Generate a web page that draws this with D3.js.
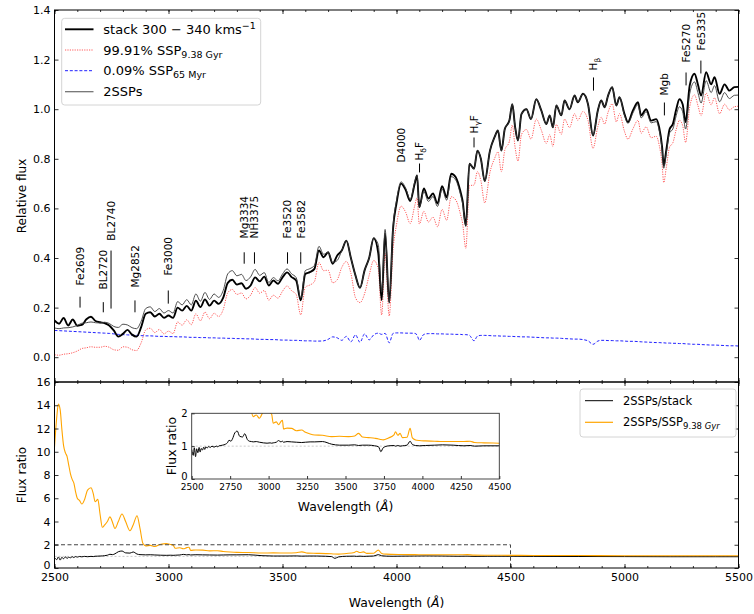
<!DOCTYPE html>
<html><head><meta charset="utf-8">
<script src="https://cdn.jsdelivr.net/npm/d3@7"></script>
<style>
body{margin:0;background:#fff;}
svg{font-family:"DejaVu Sans",sans-serif;}
</style></head><body>
<svg id="chart" width="754" height="614"></svg>
<script>
// ---- Spectra (relative flux) on a common wavelength grid (Angstrom) ----
const wave = [2500,2520,2540,2560,2580,2600,2620,2640,2660,2680,
 2700,2720,2740,2760,2780,2800,2820,2840,2860,2880,
 2900,2920,2940,2960,2980,3000,3020,3040,3060,3080,
 3100,3120,3140,3160,3180,3200,3220,3240,3260,3280,
 3300,3320,3340,3360,3380,3400,3420,3440,3460,3480,
 3500,3520,3540,3560,3580,3600,3620,3640,3660,3680,
 3700,3720,3740,3760,3780,3800,3820,3840,3860,3880,
 3900,3920,
 3935,3950,3968,3985,4000,4020,4040,4060,4080,4090,
 4100,4120,4140,4160,4180,4200,4220,4240,4260,4280,
 4290,4304,4320,4340,4355,4370,4387,4410,4430,4445,
 4460,4475,4495,4508,4520,4533,4548,4570,4590,4613,
 4635,4657,4672,4686,4701,4723,4737,4759,4781,4795,
 4818,4840,4862,4883,4898,4913,4928,4946,4964,4978,
 5000,5015,5037,5059,5073,5095,5117,5139,5152,5165,
 5172,5183,5198,5212,5227,5241,5255,5268,5286,5307,
 5322,5336,5358,5380,5395,5417,5439,5460,5482,5500];

// stacked spectrum, 300-340 km/s
const stack = [.148,.135,.158,.128,.152,.127,.130,.153,.163,.146,
 .141,.137,.128,.108,.083,.094,.110,.091,.083,.121,
 .175,.181,.164,.175,.159,.168,.159,.200,.188,.207,
 .188,.228,.202,.233,.208,.228,.215,.240,.300,.312,
 .293,.298,.276,.289,.322,.306,.325,.289,.309,.296,
 .322,.342,.323,.309,.229,.336,.343,.356,.430,.403,
 .423,.377,.410,.430,.470,.400,.330,.280,.350,.400,
 .480,.420,
 .230,.500,.220,.520,.620,.700,.675,.630,.700,.733,
 .605,.680,.640,.660,.620,.690,.645,.740,.726,.670,
 .630,.530,.780,.760,.833,.800,.710,.833,.887,.914,
 .833,.920,.954,1.020,.930,.874,.980,1.000,.960,1.040,
 .995,.940,.975,.927,1.015,.975,1.035,1.000,1.055,1.028,
 1.062,1.020,.894,.995,1.035,1.008,1.055,1.089,1.015,1.048,
 .980,.948,.995,1.028,.975,1.000,.954,.960,.927,.847,
 .773,.833,.920,.940,1.000,1.040,1.020,.948,1.096,1.143,
 1.100,1.055,1.149,1.100,1.129,1.062,1.100,1.075,1.089,1.090];

// 99.91% SSP, 9.38 Gyr
const sspOld = [.010,.008,.012,.014,.018,.025,.035,.038,.042,.040,
 .040,.044,.040,.030,.028,.042,.040,.030,.027,.058,
 .110,.117,.099,.112,.094,.105,.095,.142,.129,.151,
 .131,.175,.147,.182,.155,.177,.164,.192,.260,.273,
 .253,.259,.235,.250,.281,.258,.269,.230,.250,.238,
 .266,.287,.268,.253,.171,.283,.291,.305,.382,.349,
 .351,.300,.312,.362,.386,.338,.240,.220,.256,.330,
 .390,.357,
 .170,.419,.166,.434,.534,.609,.585,.539,.611,.643,
 .537,.588,.545,.565,.526,.596,.552,.647,.634,.578,
 .539,.439,.692,.694,.748,.712,.622,.746,.801,.828,
 .748,.835,.870,.936,.847,.791,.898,.918,.879,.960,
 .916,.862,.897,.850,.938,.899,.960,.926,.982,.955,
 .991,.954,.842,.930,.967,.940,.988,1.022,.949,.982,
 .910,.879,.921,.955,.903,.929,.885,.891,.856,.777,
 .704,.763,.848,.864,.919,.955,.935,.866,1.010,1.058,
 1.015,.974,1.065,1.018,1.046,.982,1.020,.997,1.010,1.012];

// 0.09% SSP, 65 Myr
const sspYoung = [.108,.107,.106,.105,.104,.103,.102,.101,.100,.099,
 .098,.097,.096,.094,.092,.091,.090,.089,.088,.087,
 .086,.086,.085,.084,.084,.083,.083,.082,.082,.081,
 .080,.080,.079,.079,.078,.078,.077,.077,.076,.076,
 .075,.075,.074,.074,.073,.072,.072,.071,.071,.070,
 .069,.069,.068,.068,.067,.066,.066,.065,.065,.066,
 .072,.082,.078,.068,.084,.062,.090,.060,.094,.070,
 .090,.097,
 .092,.096,.058,.096,.098,.098,.097,.097,.096,.090,
 .068,.092,.095,.095,.094,.094,.093,.093,.092,.092,
 .091,.091,.088,.066,.085,.088,.088,.087,.086,.086,
 .085,.085,.084,.084,.083,.083,.082,.082,.081,.080,
 .079,.078,.078,.077,.077,.076,.075,.074,.073,.073,
 .071,.066,.052,.065,.068,.068,.067,.067,.066,.066,
 .065,.064,.064,.063,.062,.061,.060,.059,.059,.058,
 .058,.057,.057,.056,.056,.055,.055,.054,.053,.052,
 .052,.051,.050,.049,.049,.048,.047,.046,.046,.045];

// two-population model (2SSPs)
const twoSSP = [.118,.115,.118,.119,.122,.128,.137,.139,.142,.139,
 .138,.141,.136,.124,.120,.133,.130,.119,.115,.145,
 .196,.203,.184,.196,.178,.188,.178,.224,.211,.232,
 .211,.255,.226,.261,.233,.255,.241,.269,.336,.349,
 .328,.334,.309,.324,.354,.330,.341,.301,.321,.308,
 .335,.356,.336,.321,.238,.349,.357,.370,.447,.415,
 .423,.382,.390,.430,.470,.400,.330,.280,.350,.400,
 .480,.454,
 .262,.515,.224,.530,.632,.707,.682,.636,.707,.733,
 .605,.668,.628,.648,.608,.678,.633,.728,.714,.658,
 .618,.530,.780,.760,.833,.800,.710,.833,.887,.914,
 .833,.920,.954,1.020,.930,.874,.980,1.000,.960,1.040,
 .995,.940,.975,.927,1.015,.975,1.035,1.000,1.055,1.028,
 1.062,1.020,.894,.995,1.035,1.008,1.055,1.089,1.015,1.048,
 .975,.943,.985,1.018,.965,.990,.945,.950,.915,.835,
 .762,.820,.905,.920,.975,1.010,.990,.920,1.063,1.110,
 1.067,1.025,1.115,1.067,1.095,1.030,1.067,1.043,1.056,1.057];

// ---- Flux ratios ----
const ratioWave = [2500,2510,2517,2525,2532,2540,2548,2555,2562,2570,
 2578,2585,2592,2600,2610,2620,2632,2645,2660,2670,
 2678,2690,2700,2710,2720,2732,2743,2755,2765,2780,
 2796,2812,2831,2845,2862,2875,2888,2900,2920,2940,
 2966,2990,3010,3020,3030,3050,3065,3080,3090,3097,
 3120,3150,3180,3215,3240,3270,3300,3350,3410,3460,
 3520,3560,3585,3610,3650,3690,3715,3730,3745,3780,
 3815,3825,3840,3855,3870,3900,3920,3935,3955,3980,
 4020,4080,4130,4200,4270,4310,4340,4400,4500,4600,
 4800,5000,5200,5400,5500];
const ratioToStack = [0.90,0.72,0.95,0.68,0.92,0.80,0.96,0.82,0.93,0.88,
 0.97,0.90,0.98,0.94,0.99,0.96,1.00,0.97,1.00,0.98,
 1.01,1.02,1.03,1.04,1.06,1.10,1.18,1.15,1.22,1.40,
 1.46,1.30,1.28,1.38,1.20,1.15,1.14,1.13,1.14,1.12,
 1.10,1.09,1.10,1.09,1.10,1.12,1.17,1.13,1.15,1.12,
 1.14,1.13,1.12,1.11,1.12,1.13,1.13,1.14,1.06,1.03,
 1.03,1.04,1.02,1.03,1.03,1.01,0.98,0.83,0.95,1.01,
 1.02,1.00,1.02,1.00,1.01,1.03,1.15,1.05,1.02,1.01,
 1.02,1.03,1.04,1.03,1.01,1.02,1.00,1.01,1.01,1.00,
 0.99,0.98,0.97,0.97,0.97];
const ratioToOld = [10.4,13.0,14.1,13.6,12.0,10.5,9.9,9.6,8.9,8.1,
 7.6,7.3,6.6,6.0,5.8,5.5,5.9,6.7,6.9,6.4,
 5.7,5.9,4.6,3.5,3.7,4.0,4.4,3.9,3.4,4.0,
 4.65,4.0,3.2,3.7,4.5,3.4,2.1,1.9,1.95,1.85,
 2.05,2.1,2.02,1.97,1.70,1.74,1.65,1.75,1.79,1.52,
 1.55,1.54,1.47,1.49,1.42,1.37,1.34,1.33,1.29,1.30,
 1.29,1.31,1.39,1.28,1.26,1.24,1.22,1.20,1.19,1.25,
 1.34,1.44,1.33,1.39,1.26,1.27,1.54,1.25,1.19,1.17,
 1.16,1.15,1.14,1.14,1.14,1.15,1.11,1.10,1.09,1.08,
 1.07,1.06,1.06,1.05,1.05];

// ---- Spectral feature marks: name ("_" marks a subscript character), wavelength,
//      tick range and text start in flux units ----
const featureNames = ["Fe2609","BL2720","BL2740","Mg2852","Fe3000","Mg3334","NH3375","Fe3520","Fe3582",
                      "D4000","H_δF","H_γF","H_β","Mgb","Fe5270","Fe5335"];
const featureWaves = [2612,2714,2748,2853,2999,3332,3377,3522,3580,4022,4101,4340,4864,5175,5270,5335];
const featureTickLo = [0.200,0.181,0.196,0.181,0.216,0.377,0.377,0.377,0.377,null,0.745,0.846,1.075,0.975,1.096,1.144];
const featureTickHi = [0.244,0.222,0.430,0.229,0.269,0.423,0.423,0.423,0.423,null,0.781,0.886,1.128,1.027,1.148,1.196];
const featureTextAt = [0.289,0.273,0.470,0.281,0.329,0.479,0.479,0.479,0.479,0.785,0.793,0.902,1.156,1.055,1.188,1.237];

const fluxTicks = [0,0.2,0.4,0.6,0.8,1.0,1.2,1.4];
const ratioTicks = [0,2,4,6,8,10,12,14,16];
const waveTicks = [2500,3000,3500,4000,4500,5000,5500];
const insetWaveTicks = [2500,2750,3000,3250,3500,3750,4000,4250,4500];
const insetRatioTicks = [0,1,2];

// ---- Layout ----
const L = 54.5, R = 738.5, T1 = 10, B1 = 382, B2 = 568;
const svg = d3.select("#chart");
const x  = d3.scaleLinear().domain([2500,5500]).range([L,R]);
const yF = d3.scaleLinear().domain([-0.1,1.4]).range([B1,T1]);
const yR = d3.scaleLinear().domain([0,16]).range([B2,B1]);
const IL = 191.7, IR = 499.3, IT = 413.3, IB = 479;
const xi = d3.scaleLinear().domain([2500,4500]).range([IL,IR]);
const yi = d3.scaleLinear().domain([0,2]).range([IB,IT]);

const defs = svg.append("defs");
function clip(id,x0,y0,w,h){ defs.append("clipPath").attr("id",id).append("rect").attr("x",x0).attr("y",y0).attr("width",w).attr("height",h); }
clip("cTop",L,T1,R-L,B1-T1);
clip("cBot",L,B1,R-L,B2-B1);
clip("cIn",IL,IT,IR-IL,IB-IT);

const pairs = (xs,ys) => xs.map((w,i)=>[w,ys[i]]);
const lineTop = d3.line().x(d=>x(d[0])).y(d=>yF(d[1])).curve(d3.curveMonotoneX);
const lineBot = d3.line().x(d=>x(d[0])).y(d=>yR(d[1])).curve(d3.curveMonotoneX);
const lineIn  = d3.line().x(d=>xi(d[0])).y(d=>yi(d[1])).curve(d3.curveMonotoneX);

// ---- Axis helpers (inward ticks, frame drawn separately) ----
function styleAxis(g, fs){
  g.select(".domain").remove();
  g.selectAll(".tick line").attr("stroke","#000").attr("stroke-width",0.8);
  g.selectAll(".tick text").attr("fill","#000").attr("font-size",fs).attr("font-family","DejaVu Sans");
}
// the zero label sits a little above its tick so it clears the wavelength labels
function liftZero(g, px){
  g.selectAll(".tick").filter(d=>d===0).select("text").attr("dy",(0.32*0) + "em").attr("y",-px)
    .attr("dominant-baseline","central");
}
function xTicks(scale, yPos, orient, labels, fs){
  const minor = d3.range(scale.domain()[0], scale.domain()[1]+1, 100);
  const ax = orient==="top" ? d3.axisTop : d3.axisBottom;
  svg.append("g").attr("transform",`translate(0,${yPos})`)
    .call(ax(scale).tickValues(minor).tickSize(-2).tickFormat("")).call(g=>styleAxis(g,fs));
  svg.append("g").attr("transform",`translate(0,${yPos})`)
    .call(ax(scale).tickValues(waveTicks).tickSize(-4).tickPadding(5).tickFormat(labels ? d3.format("d") : ""))
    .call(g=>styleAxis(g,fs));
}
function yTicks(scale, vals, fmt, fs){
  const g = svg.append("g").attr("transform",`translate(${L},0)`)
    .call(d3.axisLeft(scale).tickValues(vals).tickSize(-4).tickPadding(4).tickFormat(fmt)).call(g=>styleAxis(g,fs));
  svg.append("g").attr("transform",`translate(${R},0)`)
    .call(d3.axisRight(scale).tickValues(vals).tickSize(-4).tickFormat("")).call(g=>styleAxis(g,fs));
  return g;
}

// ---- Top panel: spectra ----
const gTop = svg.append("g").attr("clip-path","url(#cTop)");
gTop.append("path").attr("d",lineTop(pairs(wave,sspOld))).attr("fill","none")
  .attr("stroke","#ff5a5a").attr("stroke-width",1).attr("stroke-dasharray","1.2,1.2");
gTop.append("path").attr("d",lineTop(pairs(wave,sspYoung))).attr("fill","none")
  .attr("stroke","#2020ff").attr("stroke-width",1).attr("stroke-dasharray","3,1.8");
gTop.append("path").attr("d",lineTop(pairs(wave,stack))).attr("fill","none")
  .attr("stroke","#000").attr("stroke-width",1.9).attr("stroke-linejoin","round");
gTop.append("path").attr("d",lineTop(pairs(wave,twoSSP))).attr("fill","none")
  .attr("stroke","#3a3a3a").attr("stroke-width",0.9);

xTicks(x, T1, "top", false, 11);
xTicks(x, B1, "bottom", false, 11);
yTicks(yF, fluxTicks, d3.format(".1f"), 11);

// feature marks
const gFeat = svg.append("g");
featureNames.forEach((nm,i)=>{
  const px = x(featureWaves[i]);
  if (featureTickLo[i] !== null){
    gFeat.append("line").attr("x1",px).attr("x2",px)
      .attr("y1",yF(featureTickLo[i])).attr("y2",yF(featureTickHi[i]))
      .attr("stroke","#000").attr("stroke-width",1);
  }
  const t = gFeat.append("text").attr("transform",`translate(${px},${yF(featureTextAt[i])}) rotate(-90)`)
    .attr("dy","0.36em").attr("font-size",10.5).attr("fill","#000");
  const parts = nm.split(/_(.)/);
  parts.forEach((p,k)=>{
    if (!p) return;
    if (k % 2 === 1){
      t.append("tspan").attr("font-size",7.5).attr("dy",2.5).text(p);
    } else {
      const sp = t.append("tspan").text(p);
      if (k > 0) sp.attr("dy",-2.5);
    }
  });
});

// legend (top)
const lg = svg.append("g");
lg.append("rect").attr("x",61.7).attr("y",18.3).attr("width",199).attr("height",86.7).attr("rx",3)
  .attr("fill","#fff").attr("fill-opacity",0.85).attr("stroke","#d4d4d4").attr("stroke-width",1);
const legRows = [
  {y:29.3, stroke:"#000", w:1.9, dash:null},
  {y:50.0, stroke:"#ff5a5a", w:1, dash:"1.2,1.2"},
  {y:70.7, stroke:"#2020ff", w:1, dash:"3,1.8"},
  {y:91.7, stroke:"#6a6a6a", w:1.2, dash:null}];
legRows.forEach(r=>{
  const ln = lg.append("line").attr("x1",65).attr("x2",93.5).attr("y1",r.y).attr("y2",r.y)
    .attr("stroke",r.stroke).attr("stroke-width",r.w);
  if (r.dash) ln.attr("stroke-dasharray",r.dash);
});
const lt = (y)=> lg.append("text").attr("x",103.3).attr("y",y).attr("dy","0.36em").attr("font-size",13).attr("fill","#000");
let t0 = lt(29.3); t0.append("tspan").text("stack 300 \u2212 340 kms"); t0.append("tspan").attr("font-size",9.5).attr("dy",-5).text("\u22121");
let t1 = lt(50.0); t1.append("tspan").text("99.91% SSP"); t1.append("tspan").attr("font-size",9.5).attr("dy",3).text("9.38 Gyr");
let t2 = lt(70.7); t2.append("tspan").text("0.09% SSP"); t2.append("tspan").attr("font-size",9.5).attr("dy",3).text("65 Myr");
lt(91.7).text("2SSPs");

// ---- Bottom panel: flux ratios ----
const gBot = svg.append("g").attr("clip-path","url(#cBot)");
gBot.append("line").attr("x1",L).attr("x2",R).attr("y1",yR(1)).attr("y2",yR(1))
  .attr("stroke","#bbb").attr("stroke-width",0.8).attr("stroke-dasharray","2,2");
gBot.append("path").attr("d",lineBot(pairs(ratioWave,ratioToStack))).attr("fill","none")
  .attr("stroke","#000").attr("stroke-width",1);
gBot.append("path").attr("d",lineBot(pairs(ratioWave,ratioToOld))).attr("fill","none")
  .attr("stroke","#ffa500").attr("stroke-width",1.1);
// zoom box of the inset region
gBot.append("path").attr("d",`M${x(2500)},${yR(2)}H${x(4500)}V${yR(0)}`).attr("fill","none")
  .attr("stroke","#444").attr("stroke-width",1).attr("stroke-dasharray","4,2.5");

xTicks(x, B1, "top", false, 11);
xTicks(x, B2, "bottom", true, 11);
const gRatioAxis = yTicks(yR, ratioTicks, d3.format("d"), 11);
liftZero(gRatioAxis, 3);

// legend (bottom)
const lb = svg.append("g");
lb.append("rect").attr("x",580).attr("y",389).attr("width",156).attr("height",48).attr("rx",3)
  .attr("fill","#fff").attr("fill-opacity",0.85).attr("stroke","#d4d4d4");
lb.append("line").attr("x1",585).attr("x2",613).attr("y1",400.7).attr("y2",400.7).attr("stroke","#000").attr("stroke-width",1);
lb.append("line").attr("x1",585).attr("x2",613).attr("y1",422.3).attr("y2",422.3).attr("stroke","#ffa500").attr("stroke-width",1.2);
lb.append("text").attr("x",623).attr("y",400.7).attr("dy","0.36em").attr("font-size",11.5).text("2SSPs/stack");
const lb2 = lb.append("text").attr("x",623).attr("y",422.3).attr("dy","0.36em").attr("font-size",11.5);
lb2.append("tspan").text("2SSPs/SSP");
lb2.append("tspan").attr("font-size",8.5).attr("dy",3).text("9.38 ");
lb2.append("tspan").attr("font-size",8.5).attr("font-style","italic").text("Gyr");

// ---- Inset: zoom on 2500-4500 A ----
svg.append("rect").attr("x",IL).attr("y",IT).attr("width",IR-IL).attr("height",IB-IT).attr("fill","#fff");
const gIn = svg.append("g").attr("clip-path","url(#cIn)");
gIn.append("line").attr("x1",IL).attr("x2",IR).attr("y1",yi(1)).attr("y2",yi(1))
  .attr("stroke","#bbb").attr("stroke-width",0.8).attr("stroke-dasharray","2,2");
gIn.append("path").attr("d",lineIn(pairs(ratioWave,ratioToStack))).attr("fill","none").attr("stroke","#000").attr("stroke-width",1);
gIn.append("path").attr("d",lineIn(pairs(ratioWave,ratioToOld))).attr("fill","none").attr("stroke","#ffa500").attr("stroke-width",1.1);
svg.append("g").attr("transform",`translate(0,${IB})`)
  .call(d3.axisBottom(xi).tickValues(insetWaveTicks).tickSize(-3).tickPadding(5).tickFormat(d3.format("d")))
  .call(g=>styleAxis(g,9));
const gInY = svg.append("g").attr("transform",`translate(${IL},0)`)
  .call(d3.axisLeft(yi).tickValues(insetRatioTicks).tickSize(-3).tickPadding(4).tickFormat(d3.format("d")))
  .call(g=>styleAxis(g,10));
liftZero(gInY, 3);
svg.append("rect").attr("x",IL).attr("y",IT).attr("width",IR-IL).attr("height",IB-IT)
  .attr("fill","none").attr("stroke","#333").attr("stroke-width",0.9);
const ixl = svg.append("text").attr("x",(IL+IR)/2).attr("y",511).attr("text-anchor","middle").attr("font-size",12.4);
ixl.append("tspan").text("Wavelength (");
ixl.append("tspan").attr("font-style","italic").text("\u00C5");
ixl.append("tspan").text(")");
svg.append("text").attr("transform",`translate(176,${(IT+IB)/2}) rotate(-90)`).attr("text-anchor","middle")
  .attr("font-size",12.4).text("Flux ratio");

// ---- Frames and axis titles ----
svg.append("rect").attr("x",L).attr("y",T1).attr("width",R-L).attr("height",B1-T1).attr("fill","none").attr("stroke","#000").attr("stroke-width",1);
svg.append("rect").attr("x",L).attr("y",B1).attr("width",R-L).attr("height",B2-B1).attr("fill","none").attr("stroke","#000").attr("stroke-width",1);

const xl = svg.append("text").attr("x",(L+R)/2).attr("y",607).attr("text-anchor","middle").attr("font-size",12.4);
xl.append("tspan").text("Wavelength (");
xl.append("tspan").attr("font-style","italic").text("\u00C5");
xl.append("tspan").text(")");
svg.append("text").attr("transform",`translate(26,${(T1+B1)/2}) rotate(-90)`).attr("text-anchor","middle")
  .attr("font-size",12).text("Relative flux");
svg.append("text").attr("transform",`translate(26,${(B1+B2)/2}) rotate(-90)`).attr("text-anchor","middle")
  .attr("font-size",12).text("Flux ratio");
</script>
</body></html>
